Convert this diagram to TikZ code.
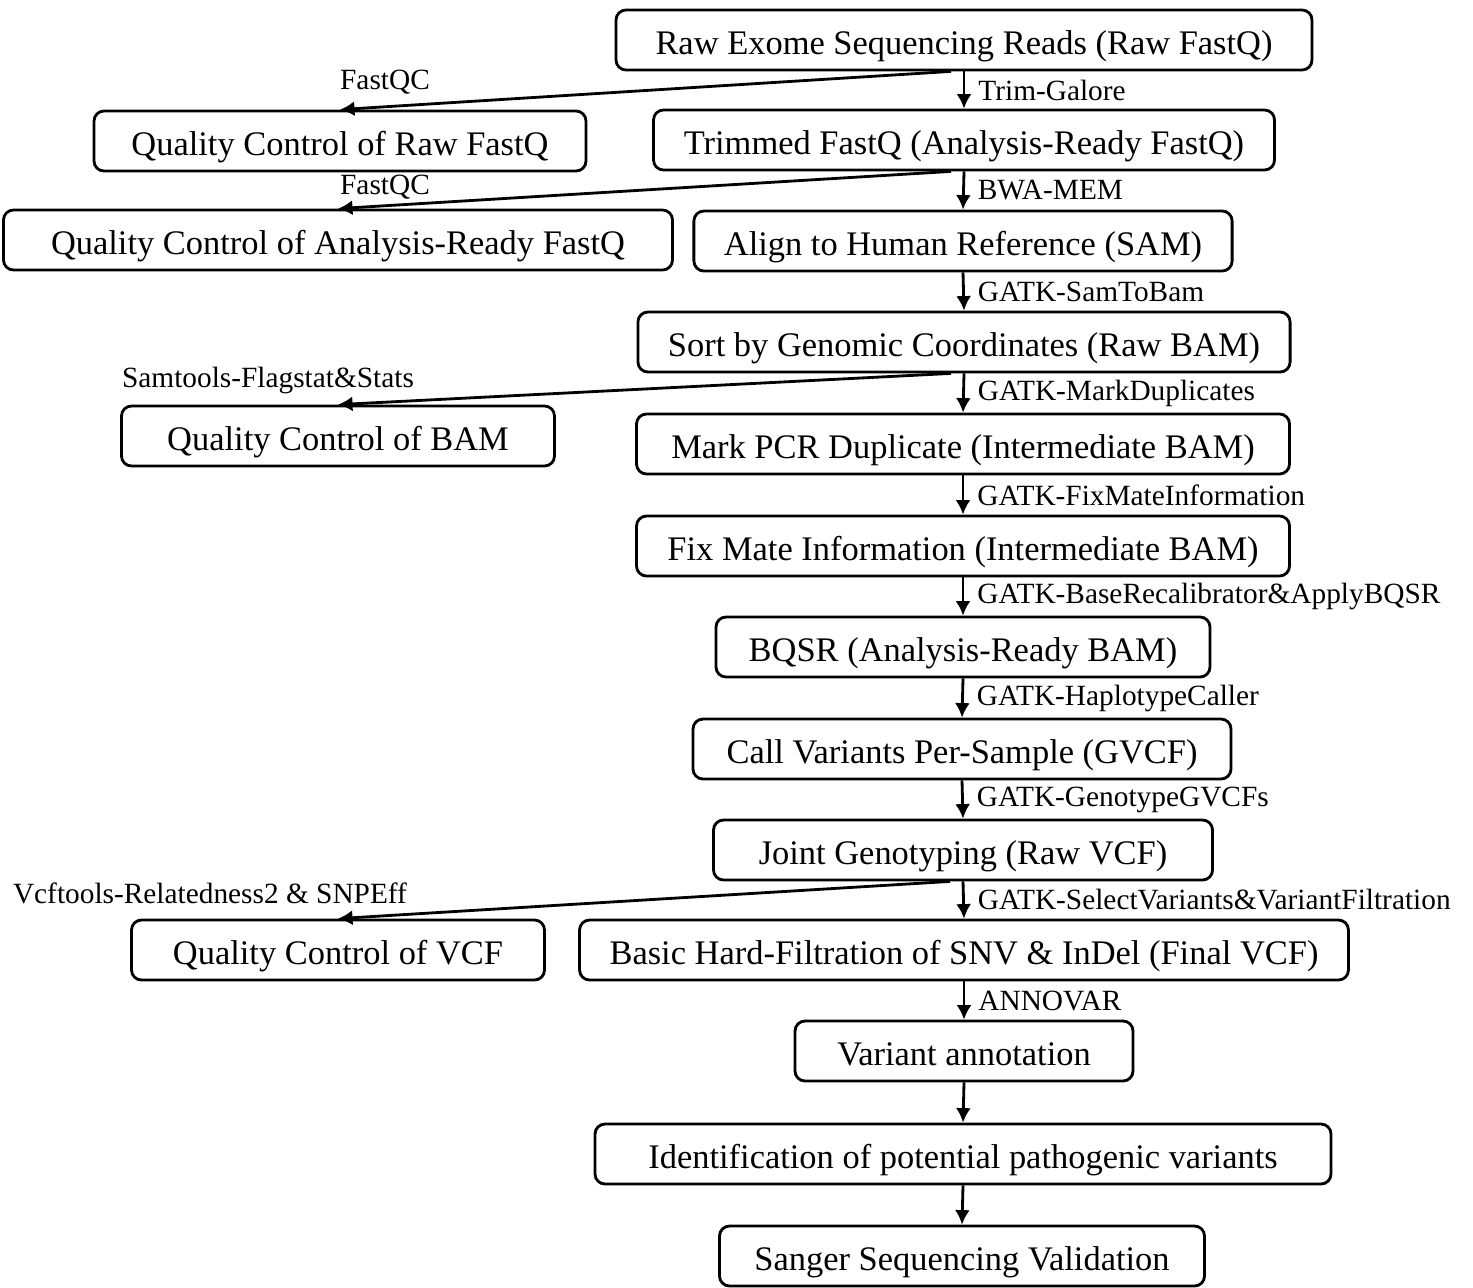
\documentclass[tikz,border=0pt]{standalone}
\usepackage{fontspec}
\setmainfont{Liberation Serif}
\usetikzlibrary{calc,arrows.meta}
\tikzset{
  stepbox/.style={draw, thick, rounded corners=1mm, minimum height=0.6cm, inner xsep=0.3cm,
    text height=0.88em, text depth=0.07em, font=\fontsize{9.8}{12}\selectfont},
  tool/.style={font=\fontsize{8.35}{10}\selectfont, inner sep=1.3mm},
  flow/.style={thick, -{Latex[length=1.45mm,width=1.5mm]}}
}
\begin{document}
\begin{tikzpicture}
				\useasboundingbox (0,0) rectangle (14.73,-12.87);
				% main pipeline
				\node[stepbox, minimum width=6.96cm] (raw) at (9.64,-0.40) {Raw Exome Sequencing Reads (Raw FastQ)};
				\node[stepbox, minimum width=6.21cm] (trim) at (9.64,-1.40) {Trimmed FastQ (Analysis-Ready FastQ)};
				\node[stepbox, minimum width=5.35cm] (align) at (9.63,-2.41) {Align to Human Reference (SAM)};
				\node[stepbox, minimum width=6.36cm] (sort) at (9.64,-3.42) {Sort by Genomic Coordinates (Raw BAM)};
				\node[stepbox, minimum width=6.53cm] (mark) at (9.63,-4.44) {Mark PCR Duplicate (Intermediate BAM)};
				\node[stepbox, minimum width=6.53cm] (fixmate) at (9.63,-5.46) {Fix Mate Information (Intermediate BAM)};
				\node[stepbox, minimum width=4.94cm] (bqsr) at (9.63,-6.47) {BQSR (Analysis-Ready BAM)};
				\node[stepbox, minimum width=5.38cm] (gvcf) at (9.62,-7.49) {Call Variants Per-Sample (GVCF)};
				\node[stepbox, minimum width=4.99cm] (joint) at (9.63,-8.50) {Joint Genotyping (Raw VCF)};
				\node[stepbox, minimum width=7.64cm] (hardfilt) at (9.64,-9.50) {Basic Hard-Filtration of SNV \& InDel (Final VCF)};
				\node[stepbox, minimum width=3.38cm] (annot) at (9.64,-10.51) {Variant annotation};
				\node[stepbox, minimum width=7.36cm] (patho) at (9.63,-11.54) {Identification of potential pathogenic variants};
				\node[stepbox, minimum width=4.85cm] (sanger) at (9.62,-12.56) {Sanger Sequencing Validation};
				% quality control side branch
				\node[stepbox, minimum width=4.92cm] (qcraw) at (3.40,-1.41) {Quality Control of Raw FastQ};
				\node[stepbox, minimum width=6.69cm] (qcready) at (3.38,-2.40) {Quality Control of Analysis-Ready FastQ};
				\node[stepbox, minimum width=4.33cm] (qcbam) at (3.38,-4.36) {Quality Control of BAM};
				\node[stepbox, minimum width=4.13cm] (qcvcf) at (3.38,-9.50) {Quality Control of VCF};
				% tools
				\draw[flow] (raw.south) -- (trim.north) node[tool, right, midway] (trimgalore) {Trim-Galore};
				\draw[flow] (trim.south) -- (align.north) node[tool, right, midway] (bwa) {BWA-MEM};
				\draw[flow] (align.south) -- (sort.north) node[tool, right, midway] (samtobam) {GATK-SamToBam};
				\draw[flow] (sort.south) -- (mark.north) node[tool, right, midway] (markdup) {GATK-MarkDuplicates};
				\draw[flow] (mark.south) -- (fixmate.north) node[tool, right, midway] (fixmateinfo) {GATK-FixMateInformation};
				\draw[flow] (fixmate.south) -- (bqsr.north) node[tool, right, midway] (baserecal) {GATK-BaseRecalibrator\&ApplyBQSR};
				\draw[flow] (bqsr.south) -- (gvcf.north) node[tool, right, midway] (haplo) {GATK-HaplotypeCaller};
				\draw[flow] (gvcf.south) -- (joint.north) node[tool, right, midway] (genotype) {GATK-GenotypeGVCFs};
				\draw[flow] (joint.south) -- (hardfilt.north) node[tool, right, midway] (selectvar) {GATK-SelectVariants\&VariantFiltration};
				\draw[flow] (hardfilt.south) -- (annot.north) node[tool, right, midway] (annovar) {ANNOVAR};
				\draw[flow] (annot.south) -- (patho.north);
				\draw[flow] (patho.south) -- (sanger.north);
				\draw[flow] ($(raw.south)+(-0.13,0)$) -- (qcraw.north);
				\draw[flow] ($(trim.south)+(-0.13,0)$) -- (qcready.north);
				\draw[flow] ($(sort.south)+(-0.13,0)$) -- (qcbam.north);
				\draw[flow] ($(joint.south)+(-0.13,0)$) -- (qcvcf.north);
				\node[tool] (fastqcraw) at (3.85,-0.82) {FastQC};
				\node[tool] (fastqcready) at (3.85,-1.87) {FastQC};
				\node[tool] (flagstat) at (2.68,-3.80) {Samtools-Flagstat\&Stats};
				\node[tool] (vcftools) at (2.10,-8.93) {Vcftools-Relatedness2 \& SNPEff};
			\end{tikzpicture}
\end{document}
